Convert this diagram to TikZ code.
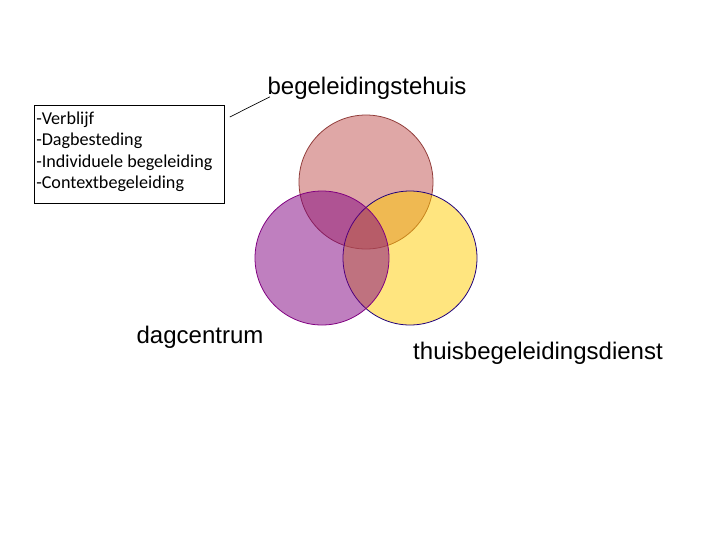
\documentclass[tikz,border=0pt]{standalone}
\usepackage{fontspec}
\setmainfont{Liberation Sans}
\newfontfamily\listfont{Carlito}
\definecolor{huisred}{RGB}{192,80,77}
\definecolor{dagpurple}{RGB}{128,0,128}
\definecolor{thuisyellow}{RGB}{255,204,0}
\usetikzlibrary{positioning}

\begin{document}
\begin{tikzpicture}[
    x=0.75pt, y=-0.75pt,
    venn/.style={circle, minimum size=100.5pt, inner sep=0pt, fill opacity=0.5, line width=0.6pt},
    label/.style={font=\fontsize{18}{21}\selectfont, inner sep=1pt},
    listbox/.style={rectangle, draw=black, line width=0.6pt, minimum width=142.5pt, minimum height=73.5pt, inner sep=0pt},
    items/.style={font=\listfont\fontsize{13.6}{16}\selectfont, align=left, inner sep=1pt}
]
    \useasboundingbox (0,0) rectangle (720,540);

    % circles: top, right, left
    \node[venn, draw=huisred!75!black, fill=huisred] (huis) at (366,182) {};
    \node[venn, draw=dagpurple!40!blue!60!black, fill=thuisyellow] (thuis) at (410,258) {};
    \node[venn, draw=dagpurple, fill=dagpurple] (dag) at (322,258) {};

    % labels
    \node[label] (huislabel) at (367,88) {begeleidingstehuis};
    \node[label] (daglabel) at (200,337) {dagcentrum};
    \node[label] (thuislabel) at (538,353) {thuisbegeleidingsdienst};

    % list
    \node[listbox, anchor=north west] (list) at (34,105) {};
    \node[items, anchor=north west] (listitems) at ([xshift=0.5pt,yshift=-4pt]list.north west)
        {-Verblijf\\-Dagbesteding\\-Individuele begeleiding\\-Contextbegeleiding};

    \coordinate (listend) at ([xshift=3.75pt,yshift=-9pt]list.north east);
    \draw[line width=0.5pt] (listend) -- ([xshift=3pt,yshift=3pt]huislabel.south west);
\end{tikzpicture}
\end{document}
